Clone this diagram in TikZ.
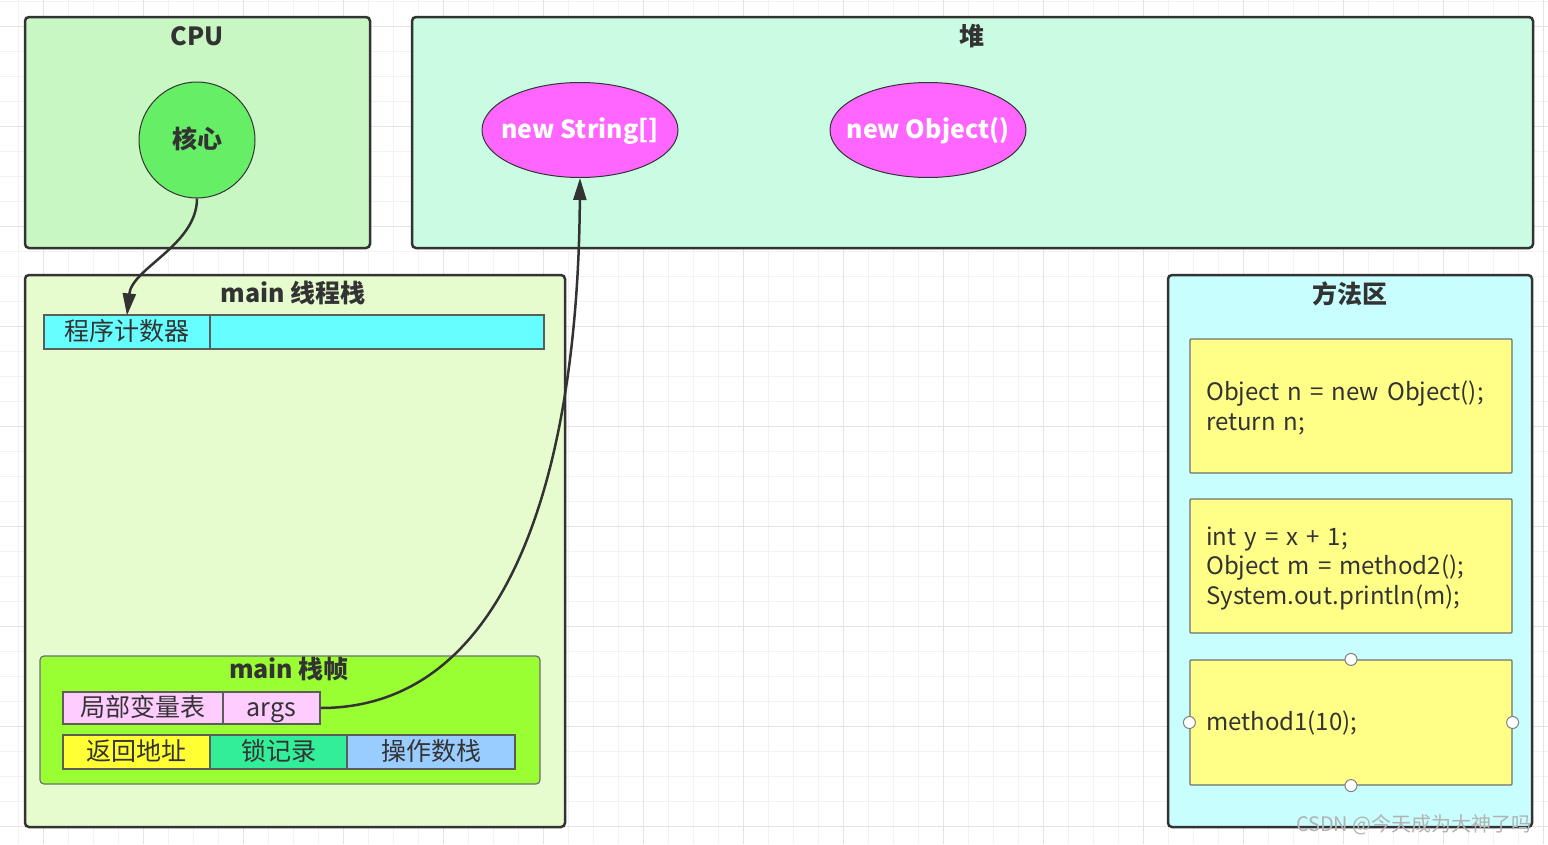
\documentclass[tikz,border=0pt]{standalone}
\usepackage{fontspec}
\setmainfont{Noto Sans CJK SC}
\newfontfamily\codefont{Noto Sans CJK SC}[WordSpace=1.5]
\usetikzlibrary{arrows.meta,shapes.geometric}
\definecolor{cpuc}{HTML}{C9F7C4}
\definecolor{heapc}{HTML}{C9FCE3}
\definecolor{stackc}{HTML}{E6FCCF}
\definecolor{methc}{HTML}{C8FEFE}
\definecolor{codec}{HTML}{FFFF88}
\definecolor{framec}{HTML}{99FF33}
\definecolor{corec}{HTML}{66EE66}
\definecolor{magc}{HTML}{FF66FF}
\definecolor{cyanc}{HTML}{66FFFF}
\definecolor{pinkc}{HTML}{FFCCFF}
\definecolor{yelc}{HTML}{FFFF33}
\definecolor{mintc}{HTML}{33EE99}
\definecolor{bluec}{HTML}{99CCFF}
\definecolor{edgec}{HTML}{333333}
\definecolor{txtc}{HTML}{333333}
\begin{document}
\begin{tikzpicture}[x=1pt,y=-1pt,
  bigbox/.style={draw=edgec, line width=2.5pt, rounded corners=4pt, inner sep=0pt},
  title/.style={font=\bfseries\fontsize{25}{28}\selectfont, text=txtc, inner sep=0pt, text height=20pt, text depth=3pt},
  cell/.style={draw=edgec!80, line width=1.2pt, inner sep=0pt, font=\fontsize{25}{28}\selectfont, text=txtc, text height=20pt, text depth=3pt},
  code/.style={draw=edgec!70, line width=1.2pt, rounded corners=1pt, fill=codec, minimum width=322pt, minimum height=134pt, inner sep=0pt},
  codetxt/.style={anchor=west, align=left, font=\codefont\fontsize{24}{29.5}\selectfont, text=txtc, inner sep=0pt},
  obj/.style={ellipse, draw=edgec, line width=1pt, fill=magc, minimum width=196pt, minimum height=95pt, inner xsep=-20pt, inner ysep=0pt, text=white, font=\bfseries\fontsize{25}{28}\selectfont, text height=20pt, text depth=3pt},
  conn/.style={draw=edgec, line width=2.5pt, -{Triangle[length=22pt,width=13pt]}},
  handle/.style={circle, draw=gray, line width=1pt, fill=white, minimum size=12pt, inner sep=0pt}
]
% background
\useasboundingbox (0,0) rectangle (1548,844);
\fill[white] (0,0) rectangle (1548,844);
\begin{scope}
\clip (0,0) rectangle (1548,844);
\foreach \gx in {18,43,...,1543} \draw[black!5, line width=0.8pt] (\gx,0) -- (\gx,844);
\foreach \gy in {1,26,...,844} \draw[black!5, line width=0.8pt] (0,\gy) -- (1548,\gy);
\foreach \gx in {43,143,...,1543} \draw[black!11, line width=1pt] (\gx,0) -- (\gx,844);
\foreach \gy in {26,126,...,826} \draw[black!11, line width=1pt] (0,\gy) -- (1548,\gy);
\end{scope}

% CPU
\node[bigbox, fill=cpuc, minimum width=345pt, minimum height=231pt] (cpu) at (197.5,132.5) {};
\node[title] (cputitle) at (197,37) {CPU};
\node[circle, draw=edgec, line width=1pt, fill=corec, minimum size=116pt, inner sep=0pt, font=\bfseries\fontsize{25}{28}\selectfont, text=txtc, text height=20pt, text depth=3pt] (core) at (197,140) {核心};

% heap
\node[bigbox, fill=heapc, minimum width=1121pt, minimum height=231pt] (heap) at (972.5,132.5) {};
\node[title] (heaptitle) at (972,37) {堆};
\node[obj] (str) at (580,130) {new String[]};
\node[obj] (objn) at (928,130) {new Object()};

% thread stack
\node[bigbox, fill=stackc, minimum width=540pt, minimum height=552pt] (stack) at (295,551) {};
\node[title] (stacktitle) at (293,294) {main 线程栈};
\node[cell, fill=cyanc, minimum width=166pt, minimum height=34pt] (pc) at (127,332) {程序计数器};
\node[cell, fill=cyanc, minimum width=334pt, minimum height=34pt] (pcval) at (377,332) {};

% frame
\node[draw=edgec!70, line width=1.2pt, rounded corners=4pt, fill=framec, minimum width=500pt, minimum height=128pt, inner sep=0pt] (frame) at (290,720) {};
\node[title] (frametitle) at (289,670) {main 栈帧};
\node[cell, fill=pinkc, minimum width=160pt, minimum height=32pt] (locals) at (143,708) {局部变量表};
\node[cell, fill=pinkc, minimum width=97pt, minimum height=32pt] (args) at (271.5,708) {args};
\node[cell, fill=yelc, minimum width=147pt, minimum height=34pt] (ret) at (136.5,752) {返回地址};
\node[cell, fill=mintc, minimum width=137pt, minimum height=34pt] (lock) at (278.5,752) {锁记录};
\node[cell, fill=bluec, minimum width=168pt, minimum height=34pt] (ops) at (431,752) {操作数栈};

% method area
\node[bigbox, fill=methc, minimum width=364pt, minimum height=552pt] (meth) at (1350,551) {};
\node[title] (methtitle) at (1350,295) {方法区};
\node[code] (m2) at (1351,406) {};
\node[codetxt] (m2t) at (1206,408) {Object n = new Object();\\return n;};
\node[code] (m1) at (1351,566) {};
\node[codetxt] (m1t) at (1206,568) {int y = x + 1;\\Object m = method2();\\System.out.println(m);};
\node[code, minimum height=125pt] (mainm) at (1351,722.5) {};
\node[codetxt] (mainmt) at (1206,723) {method1(10);};
\node[handle] (h1) at (mainm.north) {};
\node[handle] (h2) at (mainm.west) {};
\node[handle] (h3) at (mainm.east) {};
\node[handle] (h4) at (mainm.south) {};

% connectors
\draw[conn] (core.south) .. controls (197,245) and (132,268) .. ([yshift=-1pt]pc.north);
\draw[conn] (args.east) .. controls (510,708) and (578,470) .. (str.south);

% watermark
\node[anchor=east, inner sep=0pt, text=black!30, font=\fontsize{20}{22}\selectfont] (wm) at (1532,825) {CSDN @今天成为大神了吗};
\end{tikzpicture}
\end{document}
